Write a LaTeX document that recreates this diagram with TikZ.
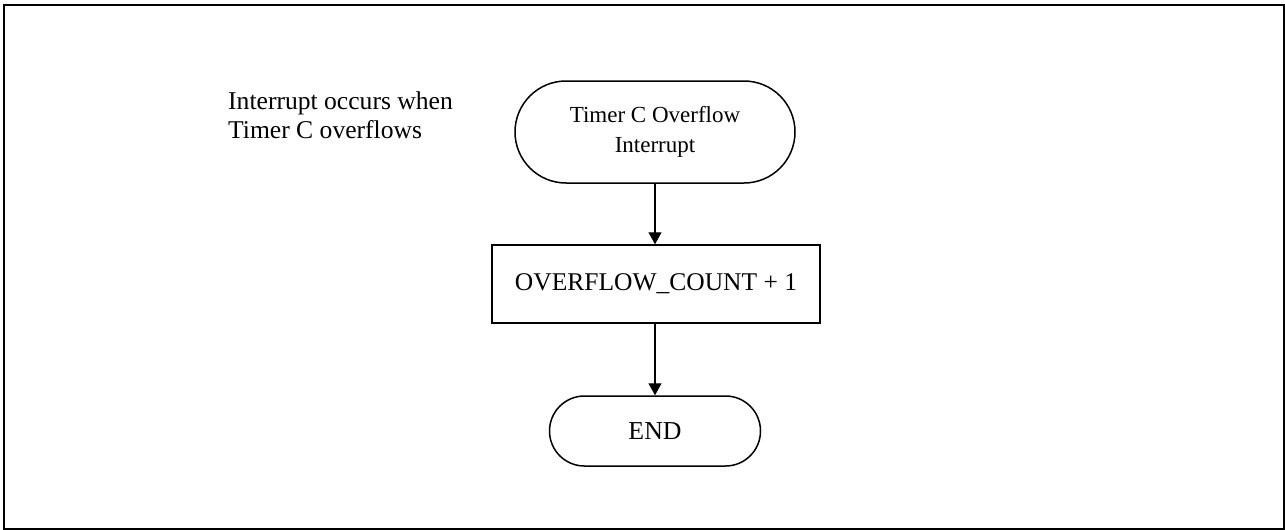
\documentclass[tikz,border=0pt]{standalone}
\usepackage{fontspec}
\setmainfont{Liberation Serif}
\usetikzlibrary{arrows.meta}
\tikzset{
  frame/.style={draw=black, line width=2pt},
  term/.style={draw=black, line width=1.5pt, inner sep=0pt, align=center},
  procbox/.style={draw=black, line width=1.5pt, inner sep=0pt, align=center},
  flow/.style={line width=1.4pt, -{Triangle[length=12pt,width=13pt]}},
  note/.style={inner sep=0pt, anchor=base west, font=\fontsize{25.6}{29}\selectfont}
}
\begin{document}
\begin{tikzpicture}[x=1pt,y=-1pt]
\useasboundingbox (0,0) rectangle (1285,530);
\draw[frame] (4,5) rectangle (1284,529);
\node[note] (n1) at (228,109) {Interrupt occurs when};
\node[note] (n2) at (228,138) {Timer C overflows};
\node[term, rounded corners=51pt, minimum width=280pt, minimum height=102pt,
      font=\fontsize{23}{30}\selectfont] (start) at (655,132) {Timer C Overflow\\Interrupt};
\node[procbox, minimum width=328pt, minimum height=78pt,
      font=\fontsize{25.5}{30}\selectfont] (inc) at (656,284) {OVERFLOW\_COUNT + 1};
\node[term, rounded corners=35pt, minimum width=211pt, minimum height=70pt,
      font=\fontsize{25.8}{30}\selectfont] (end) at (655,431) {END};
\draw[flow] (start.south) -- (inc.north -| start.south);
\draw[flow] (inc.south -| start.south) -- (end.north);
\end{tikzpicture}
\end{document}
